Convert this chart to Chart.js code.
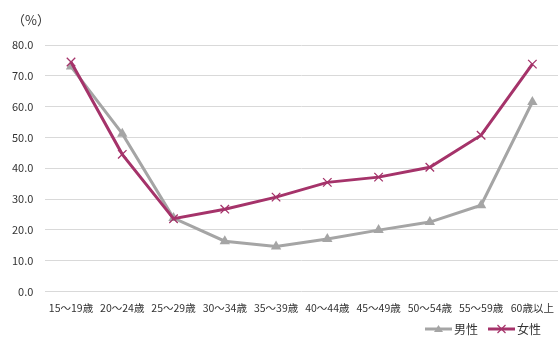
<!DOCTYPE html>
<html><head><meta charset="utf-8">
<script src="https://cdn.jsdelivr.net/npm/chart.js@4"></script>
<style>html,body{margin:0;padding:0;background:#fff;overflow:hidden}#wrap{width:558px;height:337px;position:relative}canvas{display:block}</style>
</head><body><div id="wrap"><canvas id="c"></canvas></div>
<script>
const categories = ["15～19歳","20～24歳","25～29歳","30～34歳","35～39歳","40～44歳","45～49歳","50～54歳","55～59歳","60歳以上"];
const maleValues = [73.0, 51.2, 23.8, 16.3, 14.6, 17.0, 19.9, 22.5, 28.0, 61.5];
const femaleValues = [74.5, 44.5, 23.6, 26.7, 30.6, 35.4, 37.1, 40.3, 50.7, 73.8];
const seriesNames = ["男性","女性"];
const yTicks = {min:0, max:80, step:10};
const unitLabel = "（%）";

const FONT = "'Noto Sans CJK JP', 'Noto Sans', sans-serif";
const GRAY = "#a5a5a5";
const MAG = "#a5336a";

const extras = {
  id: 'extras',
  afterDraw(chart) {
    const ctx = chart.ctx;
    ctx.save();
    ctx.fillStyle = "#333";
    ctx.font = "13px " + FONT;
    ctx.textBaseline = "middle";
    ctx.textAlign = "left";
    ctx.fillText(unitLabel, 12, 20);
    // legend
    const y = 329;
    const items = [
      {x: 425, color: GRAY, name: seriesNames[0], marker: 'tri'},
      {x: 488, color: MAG, name: seriesNames[1], marker: 'x'}
    ];
    items.forEach(it => {
      ctx.strokeStyle = it.color; ctx.lineWidth = 3;
      ctx.beginPath(); ctx.moveTo(it.x, y); ctx.lineTo(it.x + 27, y); ctx.stroke();
      const cx = it.x + 13.5;
      if (it.marker === 'tri') {
        ctx.fillStyle = it.color;
        ctx.beginPath(); ctx.moveTo(cx, y - 4); ctx.lineTo(cx + 4.5, y + 3); ctx.lineTo(cx - 4.5, y + 3); ctx.closePath(); ctx.fill();
      } else {
        ctx.lineWidth = 1.2;
        ctx.beginPath(); ctx.moveTo(cx - 4, y - 4); ctx.lineTo(cx + 4, y + 4); ctx.moveTo(cx + 4, y - 4); ctx.lineTo(cx - 4, y + 4); ctx.stroke();
      }
      ctx.fillStyle = "#333"; ctx.font = "12px " + FONT;
      ctx.fillText(it.name, it.x + 29, y);
    });
    ctx.restore();
  }
};

new Chart(document.getElementById('c'), {
  type: 'line',
  data: {
    labels: categories,
    datasets: [
      {label: seriesNames[1], data: femaleValues, borderColor: MAG, backgroundColor: MAG, borderWidth: 3,
       pointStyle: 'crossRot', pointRadius: 6, pointBorderWidth: 1.3, pointBorderColor: MAG, tension: 0, order: 1},
      {label: seriesNames[0], data: maleValues, borderColor: GRAY, backgroundColor: GRAY, borderWidth: 3,
       pointStyle: 'triangle', pointRadius: 6, pointBorderWidth: 0, pointBackgroundColor: GRAY, tension: 0, order: 2}
    ]
  },
  options: {
    responsive: true, maintainAspectRatio: false, animation: false,
    layout: {autoPadding: false, padding: {left: 0, right: 0, top: 45, bottom: 21}},
    plugins: {legend: {display: false}, tooltip: {enabled: false}, title: {display: false}},
    scales: {
      x: {offset: true, grid: {display: false}, border: {display: false},
          afterFit: s => { s.paddingRight = 0; s.paddingLeft = 0; },
          ticks: {color: "#333", font: {family: FONT, size: 10.5}, padding: 2, maxRotation: 0, autoSkip: false}},
      y: {min: yTicks.min, max: yTicks.max, grid: {color: "#d9d9d9", lineWidth: 1, drawTicks: false}, border: {display: false},
          ticks: {stepSize: yTicks.step, color: "#333", font: {family: FONT, size: 11}, padding: 12,
                  callback: v => Number(v).toFixed(1)}}
    }
  },
  plugins: [extras]
});
</script></body></html>
